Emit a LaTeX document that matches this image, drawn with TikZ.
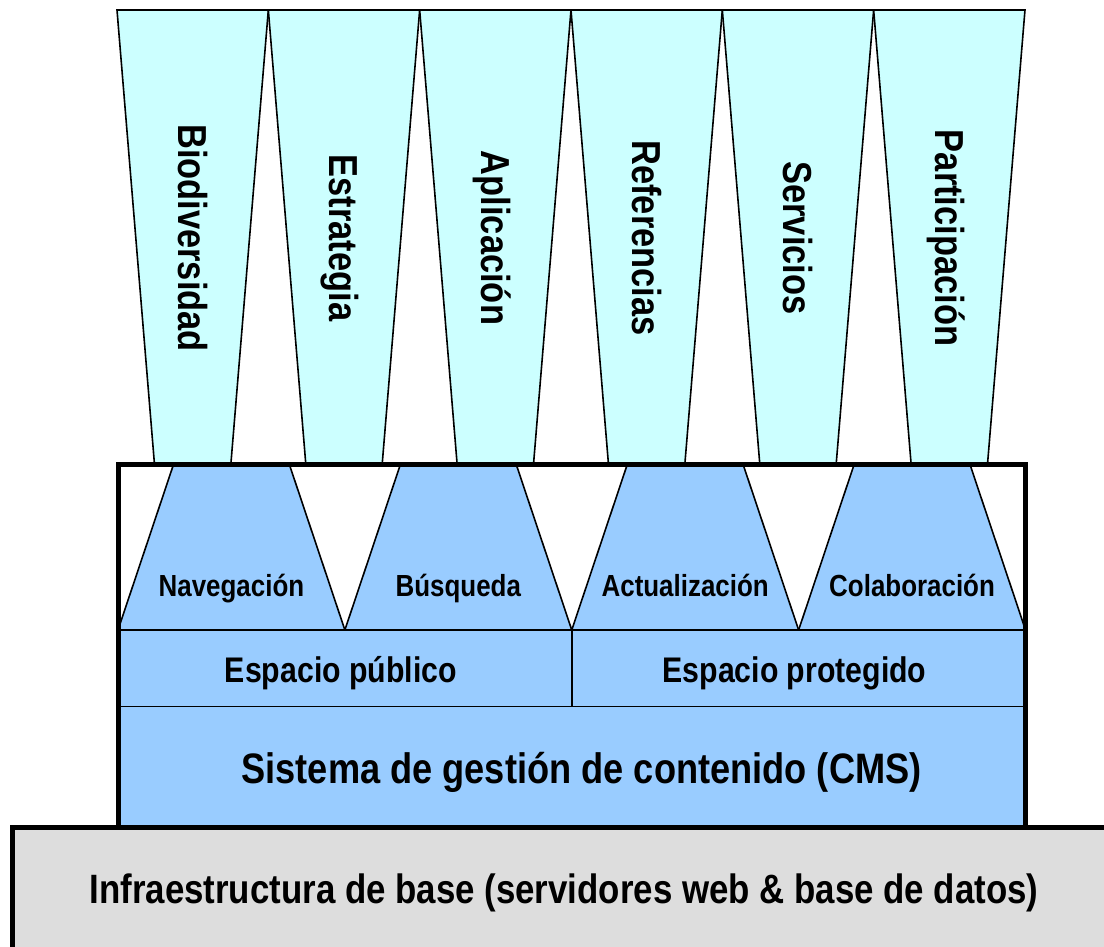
\documentclass[tikz,border=0pt]{standalone}
\usepackage{fontspec}
\setmainfont[FakeStretch=0.85]{Liberation Sans}
\definecolor{cyanfill}{HTML}{CCFFFF}
\definecolor{bluefill}{HTML}{99CCFF}
\definecolor{grayfill}{HTML}{DDDDDD}
\begin{document}
\begin{tikzpicture}[x=1pt,y=-1pt,
  topcol/.style={fill=cyanfill,draw=black,line width=1.6pt,line join=miter},
  lowcol/.style={fill=bluefill,draw=black,line width=1.6pt},
  frame/.style={draw=black,line width=5pt},
  vlabel/.style={rotate=-90,anchor=base,inner sep=0pt,font=\bfseries\fontsize{40.5}{48}\selectfont},
  tlabel/.style={anchor=base,inner sep=0pt,font=\bfseries\fontsize{30.5}{36}\selectfont},
  slabel/.style={anchor=base,inner sep=0pt,font=\bfseries\fontsize{35.6}{42}\selectfont},
  blabel/.style={anchor=base,inner sep=0pt,font=\bfseries\fontsize{41}{48}\selectfont},
  cmslabel/.style={anchor=base,inner sep=0pt,font=\bfseries\fontsize{42.6}{50}\selectfont}]
\useasboundingbox (0,0) rectangle (1104,946);
\clip (0,0) rectangle (1104,946);
% top columns
\foreach \i/\t in {0/Biodiversidad,1/Estrategia,2/Aplicación,3/Referencias,4/Servicios,5/Participación}{
  \pgfmathsetmacro\xl{117+\i*151.33}
  \pgfmathsetmacro\xr{\xl+151.33}
  \pgfmathsetmacro\xc{\xl+75.67-14.3}
  \draw[topcol] (\xl,10) -- (\xr,10) -- (\xr-37.5,464.5) -- (\xl+37.5,464.5) -- cycle;
  \node[vlabel] (top\i) at (\xc,238) {\t};
}
% middle box
\fill[white] (118,464.5) rectangle (1025.5,827.5);
\foreach \k/\t in {0/Navegación,1/Búsqueda,2/Actualización,3/Colaboración}{
  \pgfmathsetmacro\xl{118+\k*226.875}
  \pgfmathsetmacro\xr{\xl+226.875}
  \pgfmathsetmacro\xc{\xl+113.44}
  \draw[lowcol] (\xl+55.5,464.5) -- (\xr-55.5,464.5) -- (\xr,630) -- (\xl,630) -- cycle;
  \node[tlabel] (mid\k) at (\xc,596) {\t};
}
\draw[lowcol] (118,630) rectangle (571.75,706.5);
\draw[lowcol] (571.75,630) rectangle (1025.5,706.5);
\draw[lowcol] (118,706.5) rectangle (1025.5,827.5);
\node[slabel] (pub) at (341,682) {Espacio público};
\node[slabel] (prot) at (794.5,682) {Espacio protegido};
\node[cmslabel] (cms) at (581.5,783) {Sistema de gestión de contenido (CMS)};
\draw[frame] (118,464.5) rectangle (1025.5,827.5);
% infrastructure
\draw[frame,fill=grayfill] (12.5,827.5) rectangle (1120,960);
\node[blabel] (infra) at (564,903) {Infraestructura de base (servidores web \& base de datos)};
\end{tikzpicture}
\end{document}
